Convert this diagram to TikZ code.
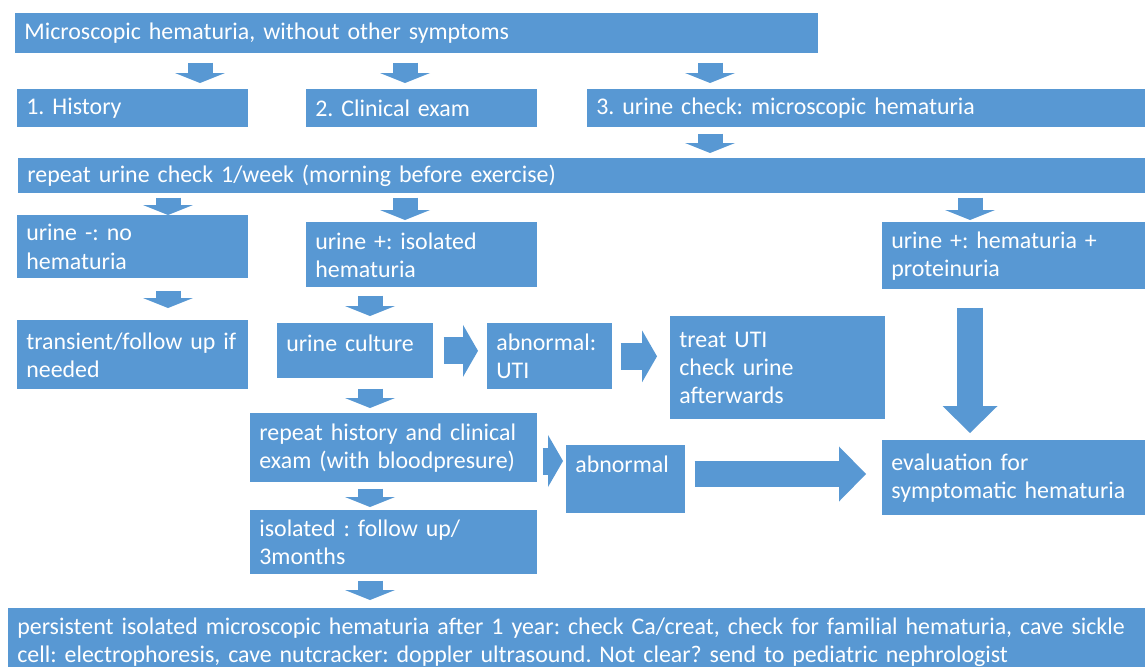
\documentclass[tikz,border=0pt]{standalone}
\usepackage{fontspec}
\setmainfont{Carlito}
\usetikzlibrary{arrows.meta}
\definecolor{hblue}{RGB}{88,152,211}
\frenchspacing
\hyphenpenalty=10000
\exhyphenpenalty=10000

\begin{document}
\begin{tikzpicture}[x=0.02cm, y=-0.02cm,
  block/.style={fill=hblue, text=white, anchor=north west, align=left, inner xsep=0.18cm, inner ysep=0pt,
    font=\fontsize{13.6}{16}\selectfont},
  flow/.style={draw=hblue, line width=0.5cm, -{Triangle[width=1.0cm, length=0.2cm, line width=0pt]}},
  flowh/.style={draw=hblue, line width=0.54cm, -{Triangle[width=1.04cm, length=0.3cm, line width=0pt]}},
  bigflow/.style={draw=hblue, line width=0.52cm, -{Triangle[width=1.1cm, length=0.54cm, line width=0pt]}}
]
\useasboundingbox (0,0) rectangle (1145,666);

% columns and rows of the block arrows
\coordinate (c1) at (200,0);
\coordinate (c2) at (405,0);
\coordinate (c3) at (710,0);
\coordinate (c4) at (168,0);
\coordinate (c5) at (970,0);
\coordinate (c6) at (370,0);
\coordinate (r1) at (0,461);
\coordinate (r2) at (0,474);

\node[block, text width=15.70cm, minimum height=0.8cm] (top) at (15,13) {Microscopic hematuria, without other symptoms};
\node[block, text width=4.26cm, minimum height=0.76cm] (hist) at (17,89) {1. History};
\node[block, text width=4.26cm, minimum height=0.76cm] (clin) at (306,89) {2. Clinical exam};
\node[block, text width=10.80cm, minimum height=0.76cm] (uchk) at (587,89) {3. urine check: microscopic hematuria};
\node[block, text width=22.18cm, minimum height=0.7cm] (rep) at (18,158) {repeat urine check 1/week (morning before exercise)};

\node[block, text width=4.26cm, minimum height=1.26cm] (neg) at (17,215) {urine -: no\\hematuria};
\node[block, text width=4.26cm, minimum height=1.30cm] (iso) at (306,222) {urine +: isolated\\hematuria};
\node[block, text width=4.90cm, minimum height=1.34cm] (prot) at (882,222) {urine +: hematuria +\\proteinuria};

\node[block, text width=4.26cm, minimum height=1.38cm] (trans) at (17,320) {transient/follow up if\\needed};
\node[block, text width=2.76cm, minimum height=1.10cm, text depth=0.3cm] (cult) at (277,323) {urine culture};
\node[block, text width=2.14cm, minimum height=1.32cm] (uti) at (487,323) {abnormal:\\UTI};
\node[block, text width=3.94cm, minimum height=2.06cm] (treat) at (670,316) {treat UTI\\check urine\\afterwards};

\node[block, text width=5.38cm, minimum height=1.38cm] (hx) at (250,413) {repeat history and clinical\\exam (with bloodpresure)};
\node[block, text width=2.02cm, minimum height=1.36cm, text depth=0.6cm] (abn) at (566,445) {abnormal};
\node[block, text width=4.90cm, minimum height=1.50cm] (eval) at (882,440) {evaluation for\\symptomatic hematuria};
\node[block, text width=5.38cm, minimum height=1.28cm] (fu) at (250,510) {isolated : follow up/\\3months};

\node[block, text width=22.38cm, minimum height=1.36cm] (pers) at (8,608) {persistent isolated microscopic hematuria after 1 year: check Ca/creat, check for familial hematuria, cave sickle\\cell: electrophoresis, cave nutcracker: doppler ultrasound. Not clear? send to pediatric nephrologist};

\draw[flow, shorten <=0.18cm, shorten >=0.12cm] (top.south -| c1) -- (hist.north -| c1);
\draw[flow, shorten <=0.18cm, shorten >=0.12cm] (top.south -| c2) -- (clin.north -| c2);
\draw[flow, shorten <=0.18cm, shorten >=0.12cm] (top.south -| c3) -- (uchk.north -| c3);
\draw[flow, shorten <=0.12cm, shorten >=0.1cm] (uchk.south -| c3) -- (rep.north -| c3);
\draw[flow, shorten <=0.08cm] (rep.south -| c4) -- (neg.north -| c4);
\draw[flow, shorten <=0.08cm, shorten >=0.04cm] (rep.south -| c2) -- (iso.north -| c2);
\draw[flow, shorten <=0.08cm, shorten >=0.04cm] (rep.south -| c5) -- (prot.north -| c5);
\draw[flow, shorten <=0.24cm, shorten >=0.24cm] (neg.south -| c4) -- (trans.north -| c4);
\draw[flow, shorten <=0.16cm, shorten >=0.14cm] (iso.south -| c6) -- (cult.north -| c6);
\draw[flow, shorten <=0.2cm, shorten >=0.1cm] (cult.south -| c6) -- (hx.north -| c6);
\draw[flow, shorten <=0.12cm, shorten >=0.06cm] (hx.south -| c6) -- (fu.north -| c6);
\draw[flow, shorten <=0.12cm, shorten >=0.16cm] (fu.south -| c6) -- (pers.north -| c6);
\draw[bigflow, shorten <=0.36cm, shorten >=0.14cm] (prot.south -| c5) -- (eval.north -| c5);

\draw[flowh, shorten <=0.2cm, shorten >=0.18cm] (cult.east) -- (cult.east -| uti.west);
\draw[flowh, shorten <=0.16cm, shorten >=0.26cm] (uti.east) -- (uti.east -| treat.west);
\draw[flowh, shorten <=0.1cm, shorten >=0.06cm] (hx.east |- r1) -- (abn.west |- r1);
\draw[bigflow, shorten <=0.18cm, shorten >=0.32cm] (abn.east |- r2) -- (eval.west |- r2);
\end{tikzpicture}
\end{document}
